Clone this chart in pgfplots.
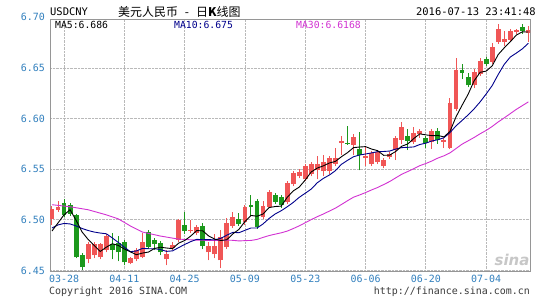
\documentclass[border=0pt]{standalone}
\usepackage{pgfplots}
\pgfplotsset{compat=1.18}
\usepackage{pgfplotstable}
\usepackage{fontspec}
\setmainfont{DejaVu Sans}
\setsansfont{DejaVu Sans}
\setmonofont{DejaVu Sans Mono}
\newfontfamily\cjk{Noto Sans CJK SC}
\definecolor{upc}{RGB}{240,86,86}
\definecolor{dnc}{RGB}{28,152,28}
\definecolor{ma10c}{RGB}{0,0,140}
\definecolor{ma30c}{RGB}{210,50,210}
\definecolor{tickc}{RGB}{50,128,190}
\definecolor{gridc}{RGB}{185,185,185}
\definecolor{boxc}{RGB}{150,150,150}
\definecolor{footc}{RGB}{60,60,60}

% up (red) candles: index open high low close
\pgfplotstableread{
i O H L C
0 6.501 6.514 6.495 6.511
1 6.510 6.519 6.508 6.513
6 6.461 6.478 6.457 6.476
7 6.465 6.478 6.462 6.476
8 6.463 6.477 6.461 6.476
9 6.470 6.486 6.468 6.484
13 6.457 6.463 6.456 6.462
14 6.461 6.472 6.459 6.470
15 6.463 6.487 6.462 6.478
19 6.461 6.470 6.455 6.466
20 6.472 6.478 6.470 6.475
21 6.480 6.501 6.478 6.500
23 6.489 6.500 6.487 6.490
24 6.487 6.495 6.485 6.493
26 6.468 6.478 6.460 6.474
27 6.466 6.486 6.462 6.474
28 6.460 6.490 6.452 6.483
29 6.473 6.502 6.471 6.497
30 6.494 6.508 6.492 6.503
32 6.498 6.515 6.495 6.513
35 6.503 6.519 6.501 6.514
36 6.513 6.530 6.512 6.528
39 6.518 6.538 6.516 6.536
40 6.535 6.548 6.533 6.546
41 6.543 6.550 6.541 6.547
42 6.540 6.555 6.538 6.553
43 6.545 6.557 6.543 6.555
44 6.549 6.563 6.540 6.555
45 6.548 6.564 6.543 6.557
46 6.548 6.563 6.545 6.561
47 6.555 6.571 6.553 6.561
48 6.576 6.583 6.564 6.578
50 6.574 6.585 6.564 6.582
52 6.561 6.572 6.553 6.563
53 6.555 6.568 6.553 6.566
54 6.557 6.569 6.555 6.567
55 6.553 6.561 6.551 6.559
56 6.562 6.567 6.560 6.565
57 6.569 6.583 6.559 6.581
58 6.579 6.597 6.575 6.592
60 6.577 6.592 6.575 6.586
61 6.585 6.590 6.581 6.588
63 6.577 6.590 6.570 6.588
65 6.577 6.581 6.571 6.579
66 6.571 6.620 6.570 6.615
67 6.610 6.660 6.608 6.648
70 6.633 6.649 6.630 6.646
71 6.644 6.660 6.642 6.657
73 6.656 6.675 6.654 6.671
74 6.676 6.694 6.674 6.689
75 6.676 6.687 6.672 6.679
76 6.678 6.689 6.676 6.687
77 6.686 6.689 6.684 6.687
79 6.685 6.692 6.676 6.688
}\up

% down (green) candles
\pgfplotstableread{
i O H L C
2 6.517 6.521 6.503 6.505
3 6.515 6.517 6.504 6.506
4 6.505 6.506 6.462 6.463
5 6.465 6.467 6.450 6.453
10 6.476 6.487 6.461 6.470
11 6.477 6.484 6.459 6.468
12 6.478 6.480 6.455 6.458
16 6.488 6.490 6.471 6.473
17 6.480 6.482 6.470 6.476
18 6.477 6.479 6.465 6.468
22 6.495 6.508 6.486 6.489
25 6.494 6.497 6.471 6.474
31 6.501 6.507 6.494 6.496
33 6.515 6.525 6.504 6.513
34 6.519 6.521 6.491 6.493
37 6.525 6.527 6.516 6.518
38 6.523 6.525 6.512 6.515
49 6.576 6.593 6.574 6.575
51 6.570 6.587 6.549 6.564
59 6.583 6.590 6.569 6.578
62 6.581 6.583 6.571 6.576
64 6.588 6.591 6.575 6.579
68 6.648 6.654 6.639 6.645
69 6.641 6.645 6.631 6.633
72 6.659 6.661 6.652 6.654
78 6.691 6.694 6.684 6.687
}\down

\pgfplotstableread{
i v
0 6.489
1 6.497
2 6.505
3 6.510
4 6.4996
5 6.488
6 6.4806
7 6.4748
8 6.4688
9 6.473
10 6.4764
11 6.4748
12 6.4712
13 6.4684
14 6.4656
15 6.4672
16 6.4682
17 6.4718
18 6.473
19 6.4722
20 6.4716
21 6.477
22 6.4796
23 6.484
24 6.4894
25 6.4892
26 6.484
27 6.481
28 6.4796
29 6.4804
30 6.4862
31 6.4906
32 6.4984
33 6.5044
34 6.5036
35 6.5058
36 6.5122
37 6.5132
38 6.5136
39 6.5222
40 6.5286
41 6.5324
42 6.5394
43 6.5474
44 6.5512
45 6.5534
46 6.5562
47 6.5578
48 6.5624
49 6.5664
50 6.5714
51 6.572
52 6.5724
53 6.570
54 6.5684
55 6.5638
56 6.564
57 6.5676
58 6.5728
59 6.575
60 6.5804
61 6.585
62 6.584
63 6.5832
64 6.5834
65 6.582
66 6.5874
67 6.6018
68 6.6132
69 6.624
70 6.6374
71 6.6458
72 6.647
73 6.6522
74 6.6634
75 6.670
76 6.676
77 6.6826
78 6.6858
79 6.6856
}\mafive

\pgfplotstableread{
i v
0 6.492
1 6.495
2 6.4965
3 6.496
4 6.494
5 6.4915
6 6.4895
7 6.488
8 6.487
9 6.4863
10 6.4822
11 6.4777
12 6.473
13 6.4686
14 6.4693
15 6.4718
16 6.4715
17 6.4715
18 6.4707
19 6.4689
20 6.4694
21 6.4726
22 6.4757
23 6.4785
24 6.4808
25 6.4804
26 6.4805
27 6.4803
28 6.4818
29 6.4849
30 6.4877
31 6.4873
32 6.4897
33 6.492
34 6.492
35 6.496
36 6.5014
37 6.5058
38 6.509
39 6.5129
40 6.5172
41 6.5223
42 6.5263
43 6.5305
44 6.5367
45 6.541
46 6.5443
47 6.5486
48 6.5549
49 6.5588
50 6.5624
51 6.5641
52 6.5651
53 6.5662
54 6.5674
55 6.5676
56 6.568
57 6.570
58 6.5714
59 6.5717
60 6.5721
61 6.5745
62 6.5758
63 6.578
64 6.5792
65 6.5812
66 6.5862
67 6.5929
68 6.5982
69 6.6037
70 6.6097
71 6.6166
72 6.6244
73 6.6327
74 6.6437
75 6.6537
76 6.6609
77 6.6648
78 6.669
79 6.6745
}\maten

\pgfplotstableread{
i v
0 6.515
3 6.513
6 6.510
9 6.505
11 6.501
13 6.494
15 6.488
18 6.484
21 6.481
24 6.480
27 6.4796
29 6.4800
30 6.4798
31 6.4792
32 6.4795
33 6.4797
34 6.4807
35 6.4827
36 6.4845
37 6.4859
38 6.4872
39 6.4889
40 6.4914
41 6.4941
42 6.4972
43 6.5003
44 6.5032
45 6.5058
46 6.5087
47 6.5116
48 6.5152
49 6.5189
50 6.5224
51 6.5246
52 6.5270
53 6.5296
54 6.5320
55 6.5349
56 6.5379
57 6.5415
58 6.5451
59 6.5478
60 6.5506
61 6.5536
62 6.5557
63 6.5582
64 6.5611
65 6.5633
66 6.5662
67 6.5705
68 6.5748
69 6.5781
70 6.5814
71 6.5851
72 6.5884
73 6.5923
74 6.5968
75 6.6008
76 6.6050
77 6.6092
78 6.6129
79 6.6166
}\mathirty

\begin{document}
\begin{tikzpicture}
\path[use as bounding box, fill=white] (-50bp,-28.5bp) rectangle (495bp,271.5bp);
\begin{axis}[
  at={(0,0)}, anchor=south west,
  scale only axis, width=480bp, height=252bp,
  xmin=-0.33, xmax=79.27, ymin=6.449, ymax=6.698,
  axis line style={boxc, line width=0.8bp},
  xtick={2,12,22,32,42,52,62,72},
  xticklabels={03-28,04-11,04-25,05-09,05-23,06-06,06-20,07-04},
  ytick={6.45,6.50,6.55,6.60,6.65},
  yticklabels={6.45,6.50,6.55,6.60,6.65},
  major tick length=0pt,
  grid=major,
  grid style={gridc, densely dotted, line width=0.8bp},
  ticklabel style={font=\ttfamily\fontsize{10}{11}\selectfont, text=tickc},
  xticklabel style={inner sep=0pt, anchor=north, yshift=-3.5bp},
  yticklabel style={inner sep=0pt, anchor=east, xshift=-5bp},
  clip=true,
]
% wicks
\addplot[draw=none, mark=none, forget plot,
  error bars/.cd, y dir=plus, y explicit, error mark=none,
  error bar style={draw=upc, solid, line width=1bp}]
  table[x=i, y=L, y error expr=\thisrow{H}-\thisrow{L}] {\up};
\addplot[draw=none, mark=none, forget plot,
  error bars/.cd, y dir=plus, y explicit, error mark=none,
  error bar style={draw=dnc, solid, line width=1bp}]
  table[x=i, y=L, y error expr=\thisrow{H}-\thisrow{L}] {\down};
% bodies
\addplot[draw=none, mark=none, forget plot,
  error bars/.cd, y dir=plus, y explicit, error mark=none,
  error bar style={draw=upc, solid, line width=4.9bp}]
  table[x=i, y=O, y error expr={max(\thisrow{C}-\thisrow{O},0.0012)}] {\up};
\addplot[draw=none, mark=none, forget plot,
  error bars/.cd, y dir=plus, y explicit, error mark=none,
  error bar style={draw=dnc, solid, line width=4.9bp}]
  table[x=i, y=C, y error expr={max(\thisrow{O}-\thisrow{C},0.0012)}] {\down};
% moving averages
\addplot[ma30c, line width=0.9bp, mark=none] table[x=i, y=v] {\mathirty};
\addplot[ma10c, line width=0.9bp, mark=none] table[x=i, y=v] {\maten};
\addplot[black, line width=0.9bp, mark=none] table[x=i, y=v] {\mafive};
\end{axis}
% top-axis label 6.70
\node[anchor=east, inner sep=0pt, text=tickc, font=\ttfamily\fontsize{10}{11}\selectfont] at (-5bp,255bp) {6.70};
% header
\node[anchor=west, inner sep=0pt, font=\ttfamily\fontsize{10.5}{12}\selectfont] at (0bp,260bp) {USDCNY};
\node[anchor=west, inner sep=0pt, font=\cjk\fontsize{12}{13}\selectfont] at (68bp,260bp) {美元人民币\hspace{7bp}-\hspace{7bp}日\textbf{K}线图};
\node[anchor=east, inner sep=0pt, font=\ttfamily\fontsize{10.5}{12}\selectfont] at (486bp,260bp) {2016-07-13 23:41:48};
% legend
\node[anchor=west, inner sep=0pt, font=\ttfamily\fontsize{9.8}{11}\selectfont] at (5bp,247bp) {MA5:6.686};
\node[anchor=west, inner sep=0pt, text=ma10c, font=\ttfamily\fontsize{9.8}{11}\selectfont] at (124bp,247bp) {MA10:6.675};
\node[anchor=west, inner sep=0pt, text=ma30c, font=\ttfamily\fontsize{9.8}{11}\selectfont] at (246bp,247bp) {MA30:6.6168};
% footer
\node[anchor=west, inner sep=0pt, text=footc, font=\ttfamily\fontsize{10}{11}\selectfont] at (-1bp,-20.5bp) {Copyright 2016 SINA.COM};
\node[anchor=east, inner sep=0pt, text=footc, font=\ttfamily\fontsize{10}{11}\selectfont] at (480bp,-20.5bp) {http://finance.sina.com.cn};
% watermark
\node[inner sep=0pt, text=black!22, font=\sffamily\bfseries\itshape\fontsize{15}{16}\selectfont] at (462bp,12bp) {sina};
\end{tikzpicture}
\end{document}
